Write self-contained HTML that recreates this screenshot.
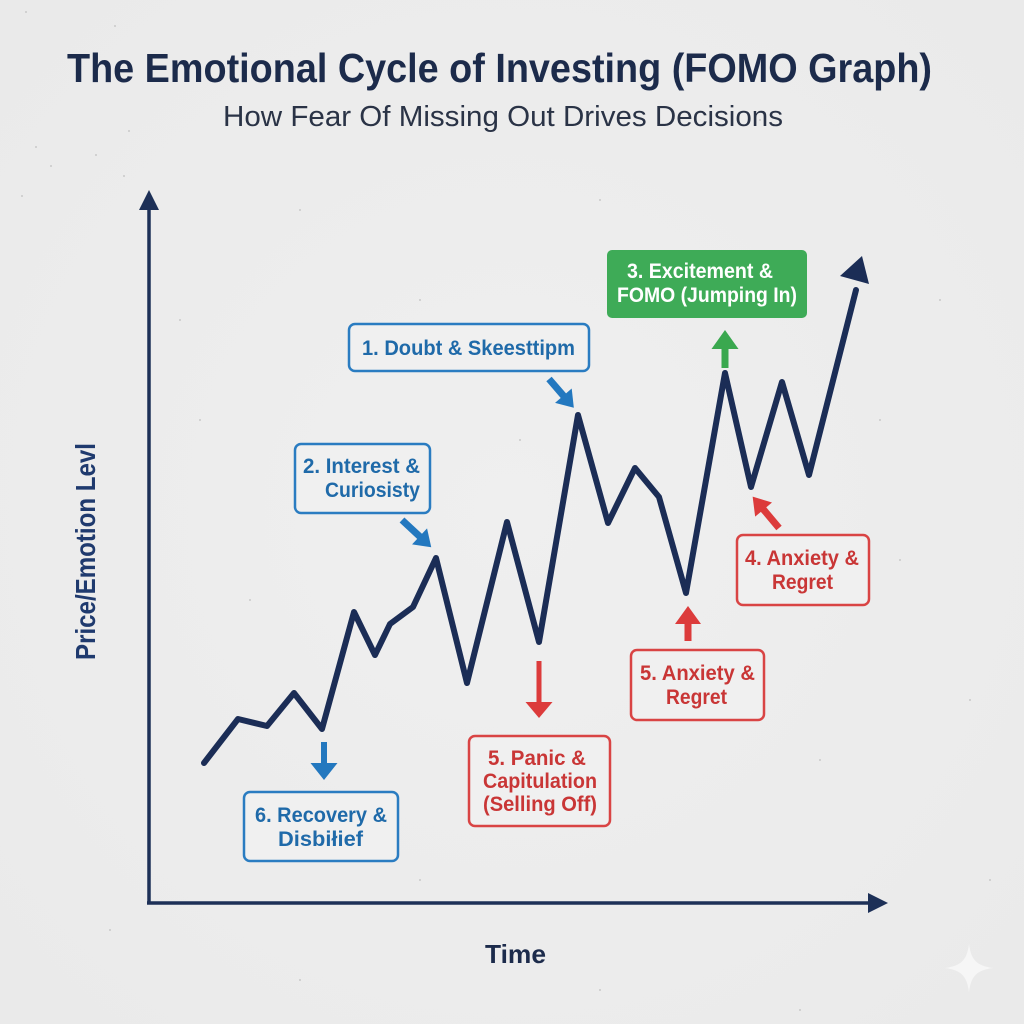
<!DOCTYPE html>
<html>
<head>
<meta charset="utf-8">
<style>
html,body{margin:0;padding:0;background:#ededed;}
svg{display:block;}
text{font-family:"Liberation Sans",Arial,sans-serif;}
</style>
</head>
<body>
<svg width="1024" height="1024" viewBox="0 0 1024 1024" xmlns="http://www.w3.org/2000/svg">
<defs>
<radialGradient id="bg" cx="50%" cy="50%" r="70%">
<stop offset="0%" stop-color="#efefef"/>
<stop offset="100%" stop-color="#eaeaea"/>
</radialGradient>
</defs>
<rect width="1024" height="1024" fill="url(#bg)"/>
<!-- noise dots -->
<g fill="#c9c9c9">
<circle cx="26" cy="12" r="1"/><circle cx="115" cy="26" r="1"/><circle cx="129" cy="131" r="1"/><circle cx="36" cy="147" r="1"/>
<circle cx="96" cy="155" r="1"/><circle cx="51" cy="166" r="1"/><circle cx="124" cy="176" r="1"/><circle cx="22" cy="196" r="1"/>
<circle cx="300" cy="210" r="1"/><circle cx="420" cy="300" r="1"/><circle cx="200" cy="420" r="1"/><circle cx="600" cy="200" r="1"/>
<circle cx="760" cy="120" r="1"/><circle cx="940" cy="300" r="1"/><circle cx="900" cy="560" r="1"/><circle cx="970" cy="700" r="1"/>
<circle cx="520" cy="440" r="1"/><circle cx="250" cy="600" r="1"/><circle cx="690" cy="640" r="1"/><circle cx="820" cy="760" r="1"/>
<circle cx="420" cy="880" r="1"/><circle cx="600" cy="990" r="1"/><circle cx="800" cy="1010" r="1"/><circle cx="990" cy="880" r="1"/>
<circle cx="300" cy="980" r="1"/><circle cx="110" cy="930" r="1"/><circle cx="880" cy="420" r="1"/><circle cx="180" cy="320" r="1"/>
</g>

<!-- Title -->
<text x="67" y="82" font-size="41" font-weight="700" fill="#1c2b4b" textLength="865" lengthAdjust="spacingAndGlyphs">The Emotional Cycle of Investing (FOMO Graph)</text>
<text x="223" y="126" font-size="29" fill="#2a3346" textLength="560" lengthAdjust="spacingAndGlyphs">How Fear Of Missing Out Drives Decisions</text>

<!-- Axes -->
<g stroke="#1d3057" stroke-width="3.5" fill="none">
<line x1="149" y1="903" x2="149" y2="205"/>
<line x1="147" y1="903" x2="872" y2="903"/>
</g>
<polygon points="149,190 139,210 159,210" fill="#1d3057"/>
<polygon points="888,903 868,893 868,913" fill="#1d3057"/>

<!-- Axis labels -->
<text transform="translate(95,660) rotate(-90)" font-size="28" font-weight="700" fill="#1f3a6e" textLength="217" lengthAdjust="spacingAndGlyphs">Price/Emotion Levl</text>
<text x="485" y="963" font-size="26" font-weight="700" fill="#1c2b4b" textLength="61" lengthAdjust="spacingAndGlyphs">Time</text>

<!-- Main line -->
<polyline points="204,763 238,719 267,726 294,693 322,729 354,612 375,655 390,624 413,607 436,558 467,683 507,522 539,642 578,415 608,523 635,468 659,497 686,593 725,373 751,487 782,382 809,475 856,290"
 fill="none" stroke="#1b2d56" stroke-width="6" stroke-linejoin="round" stroke-linecap="round"/>
<polygon points="862,256 840,276 869,284" fill="#1b2d56"/>

<!-- Arrows -->
<g fill="#2378bf">
<g transform="translate(549,379) rotate(49.2)"><rect x="0" y="-3.5" width="24" height="7"/><polygon points="22,-11 38,0 22,11"/></g>
<g transform="translate(402,520) rotate(43)"><rect x="0" y="-3.5" width="26" height="7"/><polygon points="24,-11 40,0 24,11"/></g>
<g transform="translate(324,742) rotate(90)"><rect x="0" y="-3" width="24" height="6"/><polygon points="21,-13.5 38,0 21,13.5"/></g>
</g>
<g fill="#3aa84f">
<g transform="translate(725,368) rotate(-90)"><rect x="0" y="-3.5" width="22" height="7"/><polygon points="19,-13.5 38,0 19,13.5"/></g>
</g>
<g fill="#dc3b3b">
<g transform="translate(779,528) rotate(-130)"><rect x="0" y="-3.5" width="26" height="7"/><polygon points="24,-11 41,0 24,11"/></g>
<g transform="translate(688,641) rotate(-90)"><rect x="0" y="-3.5" width="20" height="7"/><polygon points="17,-13 35,0 17,13"/></g>
<g transform="translate(539,661) rotate(90)"><rect x="0" y="-2.5" width="44" height="5"/><polygon points="41,-13.5 57,0 41,13.5"/></g>
</g>

<!-- Boxes -->
<g fill="#f0f0f0" stroke-width="2.5">
<rect x="349" y="324" width="240" height="47" rx="6" stroke="#2a7cc1"/>
<rect x="295" y="444" width="135" height="69" rx="6" stroke="#2a7cc1"/>
<rect x="244" y="792" width="154" height="69" rx="6" stroke="#2a7cc1"/>
<rect x="737" y="535" width="132" height="70" rx="6" stroke="#d94444"/>
<rect x="631" y="650" width="133" height="70" rx="6" stroke="#d94444"/>
<rect x="469" y="736" width="141" height="90" rx="6" stroke="#d94444"/>
</g>
<rect x="607" y="250" width="200" height="68" rx="5" fill="#3eab57"/>

<!-- Box text -->
<g font-size="21" font-weight="700" fill="#1f6aa9">
<text x="362" y="355" textLength="213" lengthAdjust="spacingAndGlyphs">1. Doubt &amp; Skeesttipm</text>
<text x="303" y="473" textLength="117" lengthAdjust="spacingAndGlyphs">2. Interest &amp;</text>
<text x="325" y="497" textLength="95" lengthAdjust="spacingAndGlyphs">Curiosisty</text>
<text x="255" y="822" textLength="132" lengthAdjust="spacingAndGlyphs">6. Recovery &amp;</text>
<text x="278" y="846" textLength="85" lengthAdjust="spacingAndGlyphs">Disbiłief</text>
</g>
<g font-size="21" font-weight="700" fill="#c93636">
<text x="745" y="565" textLength="114" lengthAdjust="spacingAndGlyphs">4. Anxiety &amp;</text>
<text x="772" y="589" textLength="61" lengthAdjust="spacingAndGlyphs">Regret</text>
<text x="640" y="680" textLength="115" lengthAdjust="spacingAndGlyphs">5. Anxiety &amp;</text>
<text x="666" y="704" textLength="61" lengthAdjust="spacingAndGlyphs">Regret</text>
<text x="488" y="765" textLength="98" lengthAdjust="spacingAndGlyphs">5. Panic &amp;</text>
<text x="483" y="788" textLength="114" lengthAdjust="spacingAndGlyphs">Capitulation</text>
<text x="483" y="811" textLength="114" lengthAdjust="spacingAndGlyphs">(Selling Off)</text>
</g>
<g font-size="21" font-weight="700" fill="#ffffff">
<text x="627" y="278" textLength="146" lengthAdjust="spacingAndGlyphs">3. Excitement &amp;</text>
<text x="617" y="302" textLength="180" lengthAdjust="spacingAndGlyphs">FOMO (Jumping In)</text>
</g>

<!-- sparkle -->
<path d="M969,944 C971,960 977,966 993,968 C977,970 971,976 969,992 C967,976 961,970 945,968 C961,966 967,960 969,944 Z" fill="#f6f6f6"/>
</svg>
</body>
</html>
